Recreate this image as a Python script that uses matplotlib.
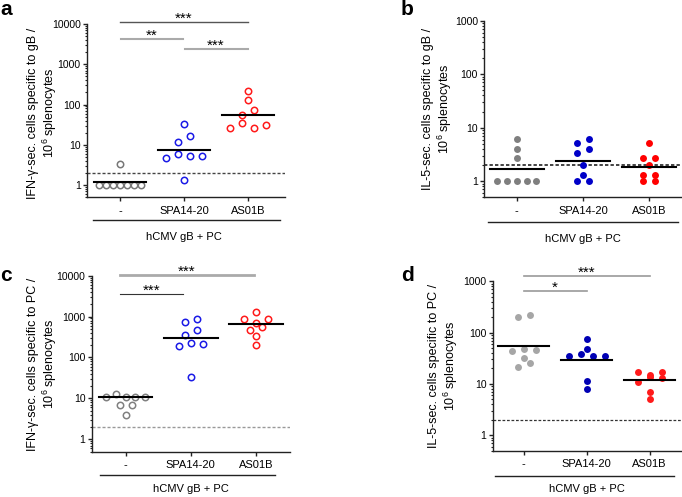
import numpy as np
import matplotlib
matplotlib.use('Agg')
import matplotlib.pyplot as plt
from matplotlib.ticker import LogLocator, NullFormatter
from matplotlib.transforms import offset_copy

plt.rcParams['font.family'] = ['Liberation Sans', 'DejaVu Sans']
plt.rcParams['mathtext.fontset'] = 'custom'
plt.rcParams['mathtext.rm'] = 'Liberation Sans'

groups = ['-', 'SPA14-20', 'AS01B']
group_label = 'hCMV gB + PC'
lod = 2  # detection limit (dashed line)

# spot counts per mouse; order inside a list = left-to-right order within a row
a_none = [3.3, 1, 1, 1, 1, 1, 1, 1]
a_spa = [33.3, 11.9, 16.6, 4.7, 6.0, 5.25, 5.25, 1.31]
a_as01 = [216, 129, 56, 72, 25.6, 35, 25.6, 32]
a_center = [1.17, 7.3, 56]

b_none = [6.1, 4.07, 2.73, 1, 1, 1, 1, 1]
b_spa = [5.27, 6.1, 3.34, 3.97, 2.02, 1.33, 1, 1]
b_as01 = [5.27, 2.75, 2.75, 2.05, 1.33, 1.33, 1, 1]
b_center = [1.68, 2.43, 1.87]

c_none = [10.7, 12.7, 10.7, 10.7, 10.7, 6.8, 6.8, 3.97]
c_spa = [743, 851, 351, 457, 188, 232, 214, 32.7]
c_as01 = [1308, 851, 703, 851, 473, 330, 542, 207]
c_center = [11, 291, 642]

d_none = [206, 225, 44.7, 47.3, 46.7, 32.3, 21.2, 25.4]
d_spa = [75, 48.2, 34.7, 38.5, 34.7, 34.7, 11.2, 8.1]
d_as01 = [17, 15.1, 17, 11.1, 13.8, 13, 7.1, 5.04]
d_center = [55, 29.5, 11.7]

W, H = 682, 497
fig = plt.figure(figsize=(W / 100, H / 100), dpi=100)


def swarm_x(vals, pos, px_unit, px_dec, step=12, width=49, gap=6.2):
    '''Prism-like layout: points closer than a marker vertically share a row.'''
    logs = np.log10(vals)
    rows = []
    for i in np.argsort(logs, kind='stable'):
        if rows and (logs[i] - logs[rows[-1][0]]) * px_dec < gap:
            rows[-1].append(i)
        else:
            rows.append([i])
    x = np.full(len(vals), float(pos))
    for r in rows:
        r = sorted(r)
        sp = min(step, width / len(r))
        for k, i in enumerate(r):
            x[i] = pos + (k - (len(r) - 1) / 2) * sp / px_unit
    return x


def panel(box, xlim, ylim, yticks, series, centers, colors, filled, lod_style):
    l, t, r, b = box
    ax = fig.add_axes([l / W, 1 - b / H, (r - l) / W, (b - t) / H])
    ax.set_yscale('log')
    ax.set_xlim(xlim)
    ax.set_ylim(ylim)
    for s in ['top', 'right']:
        ax.spines[s].set_visible(False)
    for s in ['left', 'bottom']:
        ax.spines[s].set_color('#222222')
        ax.spines[s].set_linewidth(1.0)
    ax.set_yticks(yticks)
    ax.set_yticklabels([str(v) for v in yticks])
    ax.yaxis.set_minor_locator(LogLocator(base=10, subs=np.arange(2, 10)))
    ax.yaxis.set_minor_formatter(NullFormatter())
    ax.set_xticks([0, 1, 2])
    ax.set_xticklabels(groups)
    ax.tick_params(axis='y', which='major', length=3, width=1.0, pad=1.5,
                   labelsize=7.5, color='#222222')
    ax.tick_params(axis='y', which='minor', length=1.8, width=0.8, color='#222222')
    ax.tick_params(axis='x', length=3, width=1.0, pad=3, labelsize=8, color='#222222')

    px_unit = (r - l) / (xlim[1] - xlim[0])
    px_dec = (b - t) / np.log10(ylim[1] / ylim[0])
    ax.axhline(lod, color=lod_style[0], lw=lod_style[1], ls=(0, (2.2, 1.4)), zorder=1)
    for i, vals in enumerate(series):
        x = swarm_x(vals, i, px_unit, px_dec)
        if filled:
            ax.plot(x, vals, 'o', ms=5, color=colors[i], mec='none', zorder=3, clip_on=False)
        else:
            ax.plot(x, vals, 'o', ms=4.6, mfc='none', mec=colors[i], mew=1.1,
                    zorder=3, clip_on=False)
        ax.plot([i - 0.41, i + 0.41], [centers[i], centers[i]], color='black', lw=1.5, zorder=4)
    return ax


def group_bar(ax, x0, x1, dy_line, dy_text):
    tr = offset_copy(ax.get_xaxis_transform(), fig=fig, y=-dy_line, units='dots')
    ax.plot([x0, x1], [0, 0], color='#222222', lw=1.0, transform=tr, clip_on=False)
    tr = offset_copy(ax.get_xaxis_transform(), fig=fig, y=-dy_text, units='dots')
    ax.text(1.0, 0, group_label, transform=tr, ha='center', va='center', fontsize=8)


def bracket(ax, x0, x1, y, stars, xs, color, lw):
    ax.plot([x0, x1], [y, y], color=color, lw=lw, clip_on=False)
    ax.annotate(stars, (xs, y), xytext=(0, -0.5), textcoords='offset points',
                ha='center', va='baseline', fontsize=11, annotation_clip=False)


def ylabel(xc, yc, text):
    fig.text(xc / W, 1 - yc / H, text, rotation=90, ha='center', va='center',
             multialignment='center', fontsize=9, linespacing=1.1)


# a
ax = panel((87, 24, 285, 197.3), (-0.52, 2.58), (0.5, 10000), [1, 10, 100, 1000, 10000],
           [a_none, a_spa, a_as01], a_center, ['#777777', '#1a1ae6', '#ff1a1a'], False,
           ('#444444', 1.0))
group_bar(ax, -0.42, 2.5, 22.7, 39.4)
bracket(ax, 0, 2, 11000, '***', 1, '#555555', 1.0)
bracket(ax, 0.02, 0.99, 4170, '**', 0.5, '#aaaaaa', 1.5)
bracket(ax, 1.02, 2.0, 2430, '***', 1.5, '#aaaaaa', 1.5)
ylabel(43, 113, 'IFN-γ-sec. cells specific to gB /\n10$^6$ splenocytes')
fig.text(0 / W, 1 - 15 / H, 'a', fontsize=15, fontweight='bold', va='baseline')

# b
ax = panel((484.3, 20.7, 681, 197.3), (-0.49, 2.48), (0.5, 1000), [1, 10, 100, 1000],
           [b_none, b_spa, b_as01], b_center, ['#7f7f7f', '#0000c8', '#ff0000'], True,
           ('#111111', 1.1))
group_bar(ax, -0.44, 2.43, 24.4, 41.7)
ylabel(438, 109, 'IL-5-sec. cells specific to gB /\n10$^6$ splenocytes')
fig.text(401 / W, 1 - 15 / H, 'b', fontsize=15, fontweight='bold', va='baseline')

# c
ax = panel((91.7, 275.7, 290, 451.5), (-0.52, 2.52), (0.5, 10000), [1, 10, 100, 1000, 10000],
           [c_none, c_spa, c_as01], c_center, ['#808080', '#1a1ae6', '#ff1a1a'], False,
           ('#999999', 1.0))
group_bar(ax, -0.39, 2.29, 23.8, 37.2)
bracket(ax, -0.09, 1.97, 10600, '***', 0.94, '#aaaaaa', 2.0)
bracket(ax, -0.09, 0.88, 3550, '***', 0.4, '#333333', 0.8)
ylabel(43, 364, 'IFN-γ-sec. cells specific to PC /\n10$^6$ splenocytes')
fig.text(0 / W, 1 - 281 / H, 'c', fontsize=15, fontweight='bold', va='baseline')

# d
ax = panel((492.7, 281.3, 681, 450.7), (-0.49, 2.5), (0.5, 1000), [1, 10, 100, 1000],
           [d_none, d_spa, d_as01], d_center, ['#a6a6a6', '#0000b4', '#ff1a1a'], True,
           ('#333333', 0.9))
group_bar(ax, -0.45, 2.39, 25.6, 38)
bracket(ax, 0, 2.01, 1245, '***', 1.0, '#999999', 1.2)
bracket(ax, 0, 1.0, 638, '*', 0.49, '#999999', 1.2)
ylabel(444, 366, 'IL-5-sec. cells specific to PC /\n10$^6$ splenocytes')
fig.text(401 / W, 1 - 281 / H, 'd', fontsize=15, fontweight='bold', va='baseline')

fig.savefig('out.png', dpi=100)
